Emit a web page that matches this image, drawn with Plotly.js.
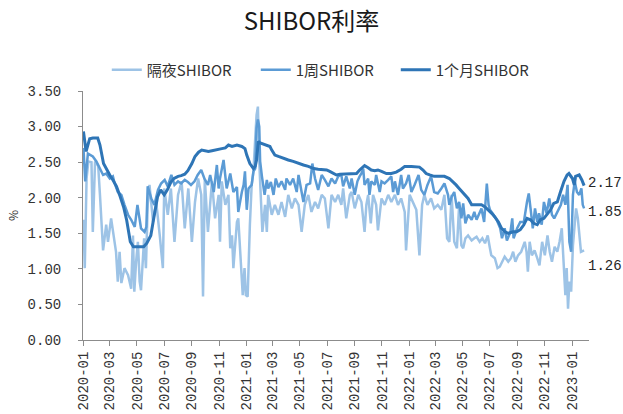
<!DOCTYPE html>
<html><head><meta charset="utf-8">
<script src="https://cdn.plot.ly/plotly-3.0.1.min.js"></script>
<style>html,body{margin:0;padding:0;background:#fff}#chart{width:623px;height:414px}</style>
</head><body><div id="chart"></div>
<script>
// 隔夜SHIBOR
const onDates = ['2020-01-02','2020-01-05','2020-01-09','2020-01-13','2020-01-20','2020-01-23','2020-01-28','2020-02-04','2020-02-08','2020-02-15','2020-02-22','2020-02-26','2020-03-04','2020-03-11','2020-03-15','2020-03-19','2020-03-23','2020-03-27','2020-04-03','2020-04-11','2020-04-18','2020-04-22','2020-04-25','2020-04-29','2020-05-03','2020-05-07','2020-05-10','2020-05-17','2020-05-21','2020-05-25','2020-05-29','2020-06-06','2020-06-13','2020-06-21','2020-06-28','2020-07-01','2020-07-09','2020-07-16','2020-07-24','2020-08-01','2020-08-09','2020-08-16','2020-08-24','2020-09-01','2020-09-08','2020-09-15','2020-09-22','2020-09-26','2020-09-30','2020-10-07','2020-10-13',
'2020-10-16','2020-10-23','2020-10-31','2020-11-03','2020-11-07','2020-11-15','2020-11-22','2020-11-26','2020-11-30','2020-12-03','2020-12-07','2020-12-11','2020-12-14','2020-12-18','2020-12-22','2020-12-24','2020-12-28','2020-12-31','2021-01-04','2021-01-06','2021-01-09','2021-01-13','2021-01-17','2021-01-21','2021-01-24','2021-01-27','2021-01-30','2021-02-03','2021-02-06','2021-02-12','2021-02-16','2021-02-19','2021-02-27','2021-03-06','2021-03-14','2021-03-21','2021-03-29','2021-04-05','2021-04-13','2021-04-20','2021-04-28','2021-05-05','2021-05-12','2021-05-20','2021-05-27','2021-06-04','2021-06-11','2021-06-19','2021-06-26','2021-07-04','2021-07-11','2021-07-19','2021-07-26',
'2021-08-02','2021-08-06','2021-08-13','2021-08-21','2021-08-25','2021-09-01','2021-09-09','2021-09-16','2021-09-23','2021-09-27','2021-10-01','2021-10-07','2021-10-12','2021-10-19','2021-10-23','2021-10-31','2021-11-07','2021-11-15','2021-11-22','2021-11-30','2021-12-07','2021-12-14','2021-12-22','2021-12-25','2022-01-02','2022-01-09','2022-01-17','2022-01-24','2022-01-30','2022-02-04','2022-02-11','2022-02-19','2022-02-26','2022-03-06','2022-03-14','2022-03-21','2022-03-27','2022-04-01','2022-04-06','2022-04-12','2022-04-18','2022-04-23','2022-04-28',
'2022-05-02','2022-05-07','2022-05-13','2022-05-21','2022-05-27','2022-06-01','2022-06-08','2022-06-14','2022-06-20','2022-06-26','2022-07-01','2022-07-04','2022-07-12','2022-07-18','2022-07-23','2022-07-28','2022-08-03','2022-08-11','2022-08-17','2022-08-22','2022-08-27','2022-09-02','2022-09-09','2022-09-17','2022-09-21','2022-09-24','2022-09-28','2022-10-03','2022-10-09','2022-10-15','2022-10-20','2022-10-26','2022-11-01','2022-11-07','2022-11-12','2022-11-17','2022-11-23','2022-11-29','2022-12-04','2022-12-09','2022-12-14','2022-12-17','2022-12-20','2022-12-23','2022-12-26','2022-12-30','2023-01-03','2023-01-07','2023-01-10','2023-01-14','2023-01-18','2023-01-21','2023-01-28'];
const onVals = [1.69,1.01,2.27,2.51,2.50,1.52,2.51,2.45,2.04,1.26,1.62,1.38,1.71,1.38,1.24,0.82,1.24,0.80,1.01,0.91,0.72,1.47,0.68,1.10,1.38,0.82,0.70,1.43,1.01,1.90,2.18,1.66,1.94,1.47,1.01,2.13,1.76,2.13,1.38,2.04,2.23,1.57,2.13,1.38,1.94,2.27,2.04,0.61,2.27,1.52,2.04,
2.23,1.71,2.04,1.38,2.23,1.90,2.04,1.29,1.47,1.01,1.33,1.66,1.71,1.24,0.82,0.63,1.01,0.63,0.61,1.10,1.62,2.18,2.37,2.84,3.16,3.28,2.51,1.94,1.52,1.90,1.52,2.04,1.76,1.90,1.76,1.94,1.73,2.04,1.85,1.99,1.90,1.52,1.90,2.04,1.80,1.94,1.85,2.04,1.99,1.57,2.04,1.94,2.04,
1.90,2.13,1.71,2.04,2.08,1.85,2.04,1.94,1.52,1.90,2.04,1.64,2.04,1.90,1.54,1.99,1.90,2.04,1.94,2.04,1.90,1.99,1.80,1.26,2.04,1.94,1.83,1.19,1.90,2.04,1.90,1.99,1.85,1.90,1.83,2.04,1.43,1.38,2.04,1.38,1.29,1.90,1.33,
1.29,1.43,1.47,1.40,1.43,1.45,1.38,1.43,1.36,1.47,1.29,1.19,1.15,1.01,1.03,1.10,1.17,1.10,1.15,1.24,1.10,1.19,1.24,1.38,1.24,0.96,1.38,1.19,1.26,1.15,1.05,1.38,1.19,1.47,1.24,1.10,1.31,1.24,1.38,1.57,0.96,0.63,1.01,0.44,0.82,0.68,1.33,1.66,1.85,1.71,1.47,1.24,1.26];

// 1周SHIBOR
const wDates = ['2020-01-02','2020-01-06','2020-01-12','2020-01-23','2020-01-31','2020-02-08','2020-02-15','2020-02-22','2020-03-01','2020-03-08','2020-03-12','2020-03-19','2020-03-27','2020-04-03','2020-04-11','2020-04-18','2020-04-26','2020-05-02','2020-05-07','2020-05-10','2020-05-18','2020-05-22','2020-05-25','2020-06-02','2020-06-09','2020-06-17','2020-06-24','2020-07-02','2020-07-09','2020-07-17','2020-07-24','2020-08-01','2020-08-08','2020-08-16','2020-08-23','2020-08-30','2020-09-07','2020-09-14','2020-09-22','2020-09-29','2020-10-07',
'2020-10-12','2020-10-20','2020-10-27','2020-10-31','2020-11-03','2020-11-11','2020-11-18','2020-11-26','2020-12-03','2020-12-11','2020-12-14','2020-12-22','2020-12-26','2020-12-29','2021-01-02','2021-01-06','2021-01-13','2021-01-17','2021-01-21','2021-01-24','2021-01-27','2021-01-30','2021-02-01','2021-02-05','2021-02-11','2021-02-16','2021-02-19','2021-02-25','2021-03-03','2021-03-08','2021-03-14','2021-03-21','2021-03-29','2021-04-01','2021-04-09','2021-04-16','2021-04-24','2021-04-28','2021-05-05','2021-05-09','2021-05-16','2021-05-24','2021-05-29','2021-06-04','2021-06-11','2021-06-19','2021-06-26','2021-07-04','2021-07-11','2021-07-19','2021-07-26',
'2021-08-02','2021-08-06','2021-08-13','2021-08-21','2021-08-25','2021-09-01','2021-09-07','2021-09-12','2021-09-16','2021-09-20','2021-09-23','2021-10-01','2021-10-04','2021-10-08','2021-10-16','2021-10-19','2021-10-27','2021-10-31','2021-11-07','2021-11-15','2021-11-22','2021-11-26','2021-11-30','2021-12-07','2021-12-14','2021-12-18','2021-12-25','2021-12-31','2022-01-06','2022-01-13','2022-01-22','2022-01-28','2022-02-04','2022-02-11','2022-02-19','2022-02-26','2022-03-06','2022-03-14','2022-03-21','2022-03-29','2022-04-01','2022-04-06','2022-04-12','2022-04-18','2022-04-23','2022-04-28',
'2022-05-02','2022-05-07','2022-05-13','2022-05-21','2022-05-27','2022-06-01','2022-06-06','2022-06-12','2022-06-18','2022-06-24','2022-06-28','2022-07-01','2022-07-09','2022-07-16','2022-07-24','2022-07-28','2022-08-03','2022-08-08','2022-08-16','2022-08-20','2022-08-23','2022-08-31','2022-09-07','2022-09-15','2022-09-22','2022-09-26','2022-09-30','2022-10-05','2022-10-10','2022-10-15','2022-10-19','2022-10-25','2022-10-30','2022-11-05','2022-11-11','2022-11-17','2022-11-22','2022-11-30','2022-12-07','2022-12-12','2022-12-17','2022-12-22','2022-12-26','2022-12-30','2023-01-03','2023-01-07','2023-01-12','2023-01-17','2023-01-22','2023-01-25','2023-01-28'];
const wVals = [2.70,2.23,2.62,2.58,2.51,2.41,2.32,2.34,2.27,2.30,2.20,2.08,2.04,1.90,1.76,1.69,1.59,1.90,1.71,1.57,1.52,1.59,2.16,1.99,1.90,2.11,2.20,2.25,2.16,2.32,2.18,2.23,2.20,2.25,2.22,2.18,2.23,2.32,2.39,2.27,2.18,
2.32,2.08,2.46,2.13,2.27,2.53,2.13,2.34,2.08,2.15,1.80,2.08,2.18,2.37,1.83,2.13,2.18,2.37,2.41,2.98,3.10,3.00,2.51,2.30,2.04,2.25,2.13,2.22,2.04,2.27,2.15,2.23,2.11,2.27,2.18,2.27,2.08,2.32,2.08,1.94,2.18,2.20,2.48,2.27,2.11,2.32,2.25,2.16,2.27,2.20,2.30,
2.32,2.16,2.30,2.13,2.27,2.04,2.23,2.30,2.34,2.41,2.18,2.27,2.04,2.23,2.18,2.32,2.08,2.23,2.20,2.25,2.30,2.08,2.23,2.04,2.32,2.13,2.20,2.32,2.08,2.18,2.32,2.11,2.04,2.18,2.30,2.08,2.06,2.13,2.20,2.04,1.90,2.01,2.08,1.85,1.94,1.71,
1.92,1.64,1.76,1.69,1.80,1.69,1.76,1.85,1.66,2.20,1.90,1.83,1.76,1.69,1.57,1.43,1.57,1.40,1.52,1.71,1.43,1.57,1.66,1.66,1.94,2.06,1.85,1.57,1.85,1.66,1.78,1.62,1.94,1.78,1.99,1.76,1.71,1.80,1.90,2.04,1.90,2.18,1.38,1.24,2.04,2.23,2.08,2.04,2.13,1.90,1.85];

// 1个月SHIBOR
const mDates = ['2020-01-02','2020-01-08','2020-01-16','2020-01-23','2020-02-03','2020-02-08','2020-02-16','2020-02-23','2020-03-01','2020-03-08','2020-03-16','2020-03-23','2020-04-01','2020-04-08','2020-04-16','2020-04-23','2020-05-01','2020-05-08','2020-05-16','2020-05-23','2020-06-01','2020-06-08','2020-06-16','2020-06-23','2020-07-01','2020-07-08','2020-07-16','2020-07-23','2020-08-01','2020-08-08','2020-08-16','2020-08-23','2020-09-01','2020-09-08','2020-09-16','2020-09-23','2020-10-01','2020-10-08','2020-10-16','2020-10-27','2020-11-07','2020-11-15','2020-11-22','2020-11-30','2020-12-11','2020-12-22','2020-12-29','2021-01-02','2021-01-09','2021-01-17','2021-01-21','2021-01-24','2021-01-28','2021-02-01','2021-02-09','2021-02-16','2021-02-23','2021-02-27','2021-03-06','2021-03-14','2021-03-25','2021-04-05','2021-04-16','2021-04-28','2021-05-09','2021-05-20','2021-06-01','2021-06-11','2021-06-22','2021-06-30','2021-07-07','2021-07-15','2021-07-22','2021-07-30','2021-08-13','2021-08-25','2021-09-05','2021-09-12','2021-09-20','2021-09-23','2021-10-01','2021-10-08','2021-10-16','2021-10-23','2021-10-31','2021-11-11','2021-11-22','2021-12-03','2021-12-14','2021-12-22','2022-01-06','2022-01-17','2022-01-24','2022-02-01','2022-02-08','2022-02-16','2022-02-26','2022-03-10','2022-03-21','2022-04-01','2022-04-08','2022-04-16','2022-04-23','2022-05-06','2022-05-13','2022-05-21','2022-05-28','2022-06-05','2022-06-12','2022-06-20','2022-06-27','2022-07-05','2022-07-12','2022-07-20','2022-07-27','2022-08-04','2022-08-11','2022-08-22','2022-08-30','2022-09-07','2022-09-15','2022-09-22','2022-09-30','2022-10-07','2022-10-15','2022-10-22','2022-10-30','2022-11-06','2022-11-14','2022-11-21','2022-11-29','2022-12-06','2022-12-14','2022-12-21','2022-12-25','2023-01-02','2023-01-06','2023-01-09','2023-01-17','2023-01-23','2023-01-28'];
const mVals = [2.93,2.65,2.83,2.84,2.84,2.74,2.48,2.39,2.32,2.25,2.16,2.04,1.87,1.68,1.38,1.31,1.31,1.30,1.31,1.36,1.47,1.73,2.01,2.11,2.04,2.11,2.22,2.27,2.30,2.31,2.33,2.38,2.48,2.58,2.64,2.67,2.66,2.65,2.66,2.67,2.69,2.70,2.74,2.72,2.74,2.72,2.69,2.60,2.48,2.41,2.44,2.53,2.79,2.77,2.75,2.74,2.72,2.67,2.60,2.58,2.55,2.53,2.51,2.48,2.46,2.44,2.41,2.40,2.39,2.39,2.37,2.34,2.32,2.33,2.33,2.33,2.34,2.39,2.44,2.45,2.42,2.39,2.38,2.39,2.37,2.34,2.34,2.36,2.40,2.44,2.44,2.44,2.43,2.39,2.34,2.32,2.30,2.30,2.30,2.27,2.23,2.18,2.13,2.03,1.99,1.90,1.90,1.90,1.90,1.87,1.83,1.78,1.73,1.66,1.57,1.52,1.50,1.52,1.52,1.55,1.62,1.71,1.69,1.64,1.62,1.69,1.71,1.76,1.83,1.92,1.94,2.08,2.23,2.32,2.34,2.27,2.18,2.30,2.32,2.25,2.17];

const seriesNames = ['隔夜SHIBOR','1周SHIBOR','1个月SHIBOR'];
const yTicks = [0,0.5,1,1.5,2,2.5,3,3.5];

const cjk = '"Noto Sans CJK SC", "Noto Sans", sans-serif';
const mono = '"Liberation Mono", "DejaVu Sans Mono", monospace';
const colors = ['#9DC3E6','#5B9BD5','#2E75B6'];

const series = [[onDates,onVals],[wDates,wVals],[mDates,mVals]];
const legendW = [104,95,93];
const traces = series.map((s,i)=>({
  x:s[0], y:s[1], name:seriesNames[i], type:'scatter', mode:'lines',
  line:{color:colors[i], width: i===2?3:2.5}, legendwidth: legendW[i], hoverinfo:'skip'
}));

const lastShift = [-16,-4,3];
const annotations = series.map((s,i)=>({
  x:s[0][s[0].length-1], y:s[1][s[1].length-1], xref:'x', yref:'y',
  text:s[1][s[1].length-1].toFixed(2), showarrow:false, xanchor:'left', yanchor:'middle',
  xshift:2, yshift:lastShift[i], font:{family:mono, size:14, color:'#262626'}
}));

const axisColor = '#8c8c8c';
const layout = {
  width:623, height:414,
  margin:{l:83, r:34, t:91, b:74},
  paper_bgcolor:'#fff', plot_bgcolor:'#fff',
  title:{text:'SHIBOR利率', x:0.5, xanchor:'center', y:0.947, yanchor:'middle',
         font:{family:cjk, size:24, color:'#1a1a1a'}},
  showlegend:true,
  legend:{orientation:'h', x:0.047, xanchor:'left', y:1.084, yanchor:'middle',
          font:{family:cjk, size:15, color:'#333'}, bgcolor:'rgba(0,0,0,0)', traceorder:'normal'},
  xaxis:{type:'date', range:['2020-01-01','2023-02-08'], tick0:'2020-01-01', dtick:'M2',
         tickformat:'%Y-%m', tickangle:-90, ticks:'outside', ticklen:5, tickcolor:axisColor,
         showline:true, linecolor:axisColor, linewidth:1, showgrid:false, zeroline:false,
         tickfont:{family:mono, size:14, color:'#333'}},
  yaxis:{range:[0,3.5], tickvals:yTicks, ticktext:yTicks.map(v=>v.toFixed(2)),
         ticks:'outside', ticklen:4, tickcolor:axisColor, showline:true, linecolor:axisColor,
         linewidth:1, showgrid:false, zeroline:false, ticklabelstandoff:14,
         tickfont:{family:mono, size:14, color:'#333'},
         title:{text:'%', font:{family:cjk, size:12, color:'#333'}, standoff:6}},
  annotations: annotations
};

Plotly.newPlot('chart', traces, layout, {staticPlot:true, displayModeBar:false});
</script>
</body></html>
